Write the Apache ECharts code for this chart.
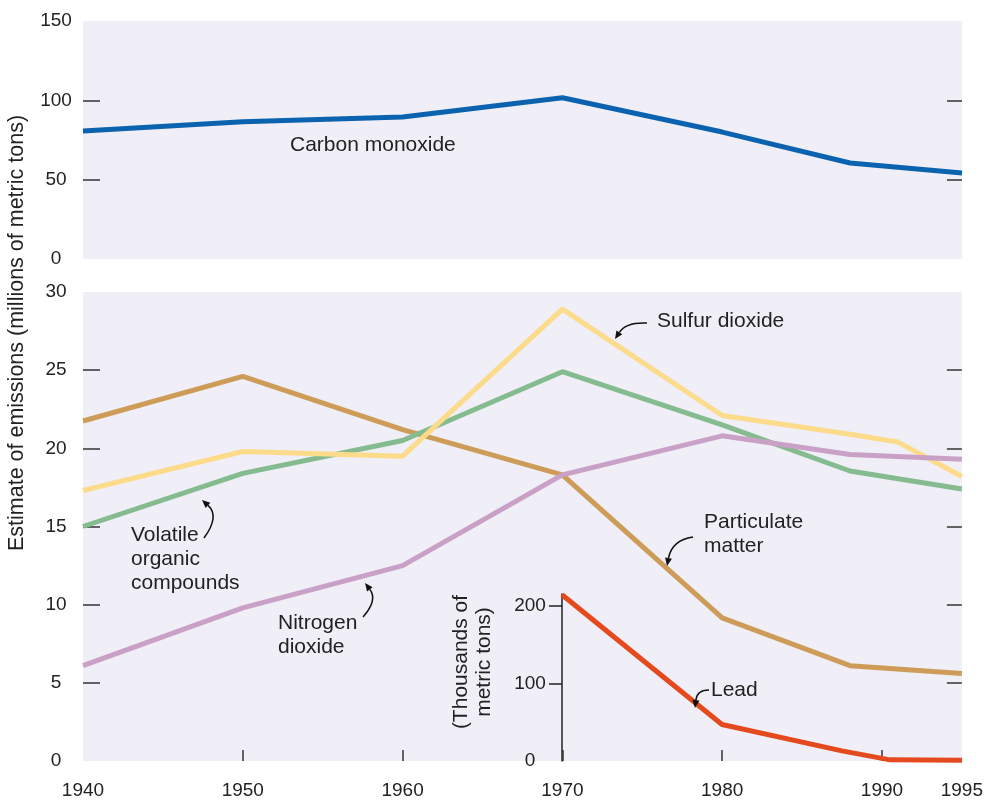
<!DOCTYPE html>
<html>
<head>
<meta charset="utf-8">
<script src="https://cdn.jsdelivr.net/npm/echarts@6/dist/echarts.min.js"></script>
<style>
  html, body { margin: 0; padding: 0; background: #fff; }
  #chart { width: 986px; height: 802px; }
</style>
</head>
<body>
<div id="chart"></div>
<script>
// years where the lines bend
const years = [1940, 1950, 1960, 1970, 1980, 1988, 1995];
const sulfurYears = [1940, 1950, 1960, 1970, 1980, 1988, 1991, 1995];
const leadYears = [1970, 1980, 1987.5, 1990.5, 1995];

// millions of metric tons
const carbonMonoxide = [80.7, 86.5, 89.5, 101.6, 80, 60.5, 54.2];
const particulate = [21.75, 24.6, 21.2, 18.3, 9.15, 6.1, 5.6];
const sulfurDioxide = [17.3, 19.8, 19.5, 28.9, 22.1, 20.9, 20.4, 18.2];
const volatileOrganic = [15.0, 18.4, 20.5, 24.9, 21.5, 18.55, 17.4];
const nitrogenDioxide = [6.1, 9.8, 12.5, 18.3, 20.8, 19.6, 19.3];
// thousands of metric tons
const lead = [214, 47, 13, 1.5, 1];

const xLabels = [1940, 1950, 1960, 1970, 1980, 1990, 1995];
const xTicks = [1950, 1960, 1970, 1980, 1990];
const topLabels = [0, 50, 100, 150];
const topTicks = [50, 100];
const bottomLabels = [0, 5, 10, 15, 20, 25, 30];
const bottomTicks = [5, 10, 15, 20, 25];
const leadLabels = [0, 100, 200];
const leadTicks = [100, 200];

const font = "'Liberation Sans', Arial, sans-serif";
const textColor = '#222';
const bg = '#f0eef6';

function zip(xs, ys) {
  return xs.map((x, i) => [x, ys[i]]);
}

function lineSeries(name, xi, yi, xs, ys, color) {
  return {
    name: name,
    type: 'line',
    xAxisIndex: xi,
    yAxisIndex: yi,
    data: zip(xs, ys),
    symbol: 'none',
    clip: false,
    lineStyle: { color: color, width: 5 },
    animation: false
  };
}

// curved pointer arrows
function arrow(x1, y1, cx, cy, x2, y2) {
  let ang = Math.atan2(y2 - cy, x2 - cx);
  let L = 8, W = 3.5;
  let bx = x2 - L * Math.cos(ang), by = y2 - L * Math.sin(ang);
  let px = -Math.sin(ang) * W, py = Math.cos(ang) * W;
  return [
    {
      type: 'bezierCurve', z: 100,
      shape: { x1: x1, y1: y1, cpx1: cx, cpy1: cy, x2: bx, y2: by },
      style: { stroke: '#111', lineWidth: 1.5, fill: null }
    },
    {
      type: 'polygon', z: 100,
      shape: { points: [[x2, y2], [bx + px, by + py], [bx - px, by - py]] },
      style: { fill: '#111' }
    }
  ];
}

function label(text, x, y) {
  return {
    type: 'text', z: 100, x: x, y: y,
    style: {
      text: text, fill: textColor, font: '21px ' + font,
      textVerticalAlign: 'middle', lineHeight: 24
    }
  };
}

function valueY(grid, min, max, labels, ticks, tickLen) {
  return {
    type: 'value', gridIndex: grid, min: min, max: max, position: 'left',
    splitLine: { show: false },
    axisLine: { show: false },
    axisTick: { show: true, inside: true, length: tickLen, customValues: ticks, lineStyle: { color: '#333', width: 1.5 } },
    axisLabel: { show: true, customValues: labels, align: 'center', margin: 27, color: textColor, fontSize: 19, fontFamily: font }
  };
}

function rightY(grid, min, max, ticks) {
  return {
    type: 'value', gridIndex: grid, min: min, max: max, position: 'right',
    splitLine: { show: false },
    axisLine: { show: false },
    axisTick: { show: true, inside: true, length: 15, customValues: ticks, lineStyle: { color: '#333', width: 1.5 } },
    axisLabel: { show: false }
  };
}

let myChart = echarts.init(document.getElementById('chart'));

let option = {
  backgroundColor: '#fff',
  animation: false,
  grid: [
    { left: 83, right: 24, top: 21, height: 238, show: true, backgroundColor: bg, borderWidth: 0 },
    { left: 83, right: 24, top: 292, height: 469, show: true, backgroundColor: bg, borderWidth: 0 },
    { left: 562, right: 24, top: 594, height: 167, show: false }
  ],
  xAxis: [
    { type: 'value', gridIndex: 0, min: 1940, max: 1995, show: false },
    {
      type: 'value', gridIndex: 1, min: 1940, max: 1995,
      splitLine: { show: false },
      axisLine: { show: false },
      axisTick: { show: true, inside: true, length: 11, customValues: xTicks, lineStyle: { color: '#333', width: 1.5 } },
      axisLabel: {
        customValues: xLabels, margin: 20, color: textColor, fontSize: 19, fontFamily: font,
        formatter: function (v) { return String(v); }
      }
    },
    { type: 'value', gridIndex: 2, min: 1970, max: 1995, show: false }
  ],
  yAxis: [
    valueY(0, 0, 150, topLabels, topTicks, 17),
    rightY(0, 0, 150, topTicks),
    valueY(1, 0, 30, bottomLabels, bottomTicks, 17),
    rightY(1, 0, 30, bottomTicks),
    {
      type: 'value', gridIndex: 2, min: 0, max: 215, position: 'left',
      splitLine: { show: false },
      axisLine: { show: true, lineStyle: { color: '#222', width: 1.5 } },
      axisTick: { show: true, inside: false, length: 13, customValues: leadTicks, lineStyle: { color: '#222', width: 1.5 } },
      axisLabel: { customValues: leadLabels, align: 'center', margin: 32, color: textColor, fontSize: 19, fontFamily: font }
    }
  ],
  series: [
    lineSeries('Carbon monoxide', 0, 0, years, carbonMonoxide, '#0b63b0'),
    lineSeries('Particulate matter', 1, 2, years, particulate, '#cc9c58'),
    lineSeries('Volatile organic compounds', 1, 2, years, volatileOrganic, '#84bb8f'),
    lineSeries('Sulfur dioxide', 1, 2, sulfurYears, sulfurDioxide, '#fcdb8a'),
    lineSeries('Nitrogen dioxide', 1, 2, years, nitrogenDioxide, '#c9a0c6'),
    lineSeries('Lead', 2, 4, leadYears, lead, '#e54a1e')
  ],
  graphic: [
    {
      type: 'text', z: 100, x: 17, y: 333, rotation: Math.PI / 2,
      style: {
        text: 'Estimate of emissions (millions of metric tons)', fill: textColor,
        font: '21.5px ' + font, textAlign: 'center', textVerticalAlign: 'middle'
      }
    },
    {
      type: 'text', z: 100, x: 473, y: 662, rotation: Math.PI / 2,
      style: {
        text: '(Thousands of\nmetric tons)', fill: textColor,
        font: '21px ' + font, textAlign: 'center', textVerticalAlign: 'middle', lineHeight: 23
      }
    },
    label('Carbon monoxide', 290, 145),
    label('Sulfur dioxide', 657, 321),
    label('Particulate\nmatter', 704, 534),
    label('Volatile\norganic\ncompounds', 131, 559),
    label('Nitrogen\ndioxide', 278, 635),
    label('Lead', 711, 690)
  ]
    .concat(arrow(647, 323, 626, 322, 615, 339))
    .concat(arrow(693, 537, 672, 540, 667, 566))
    .concat(arrow(204, 538, 220, 516, 202, 500))
    .concat(arrow(363, 617, 378, 600, 365, 583))
    .concat(arrow(709, 690, 697, 690, 695, 708))
};

myChart.setOption(option);
</script>
</body>
</html>
